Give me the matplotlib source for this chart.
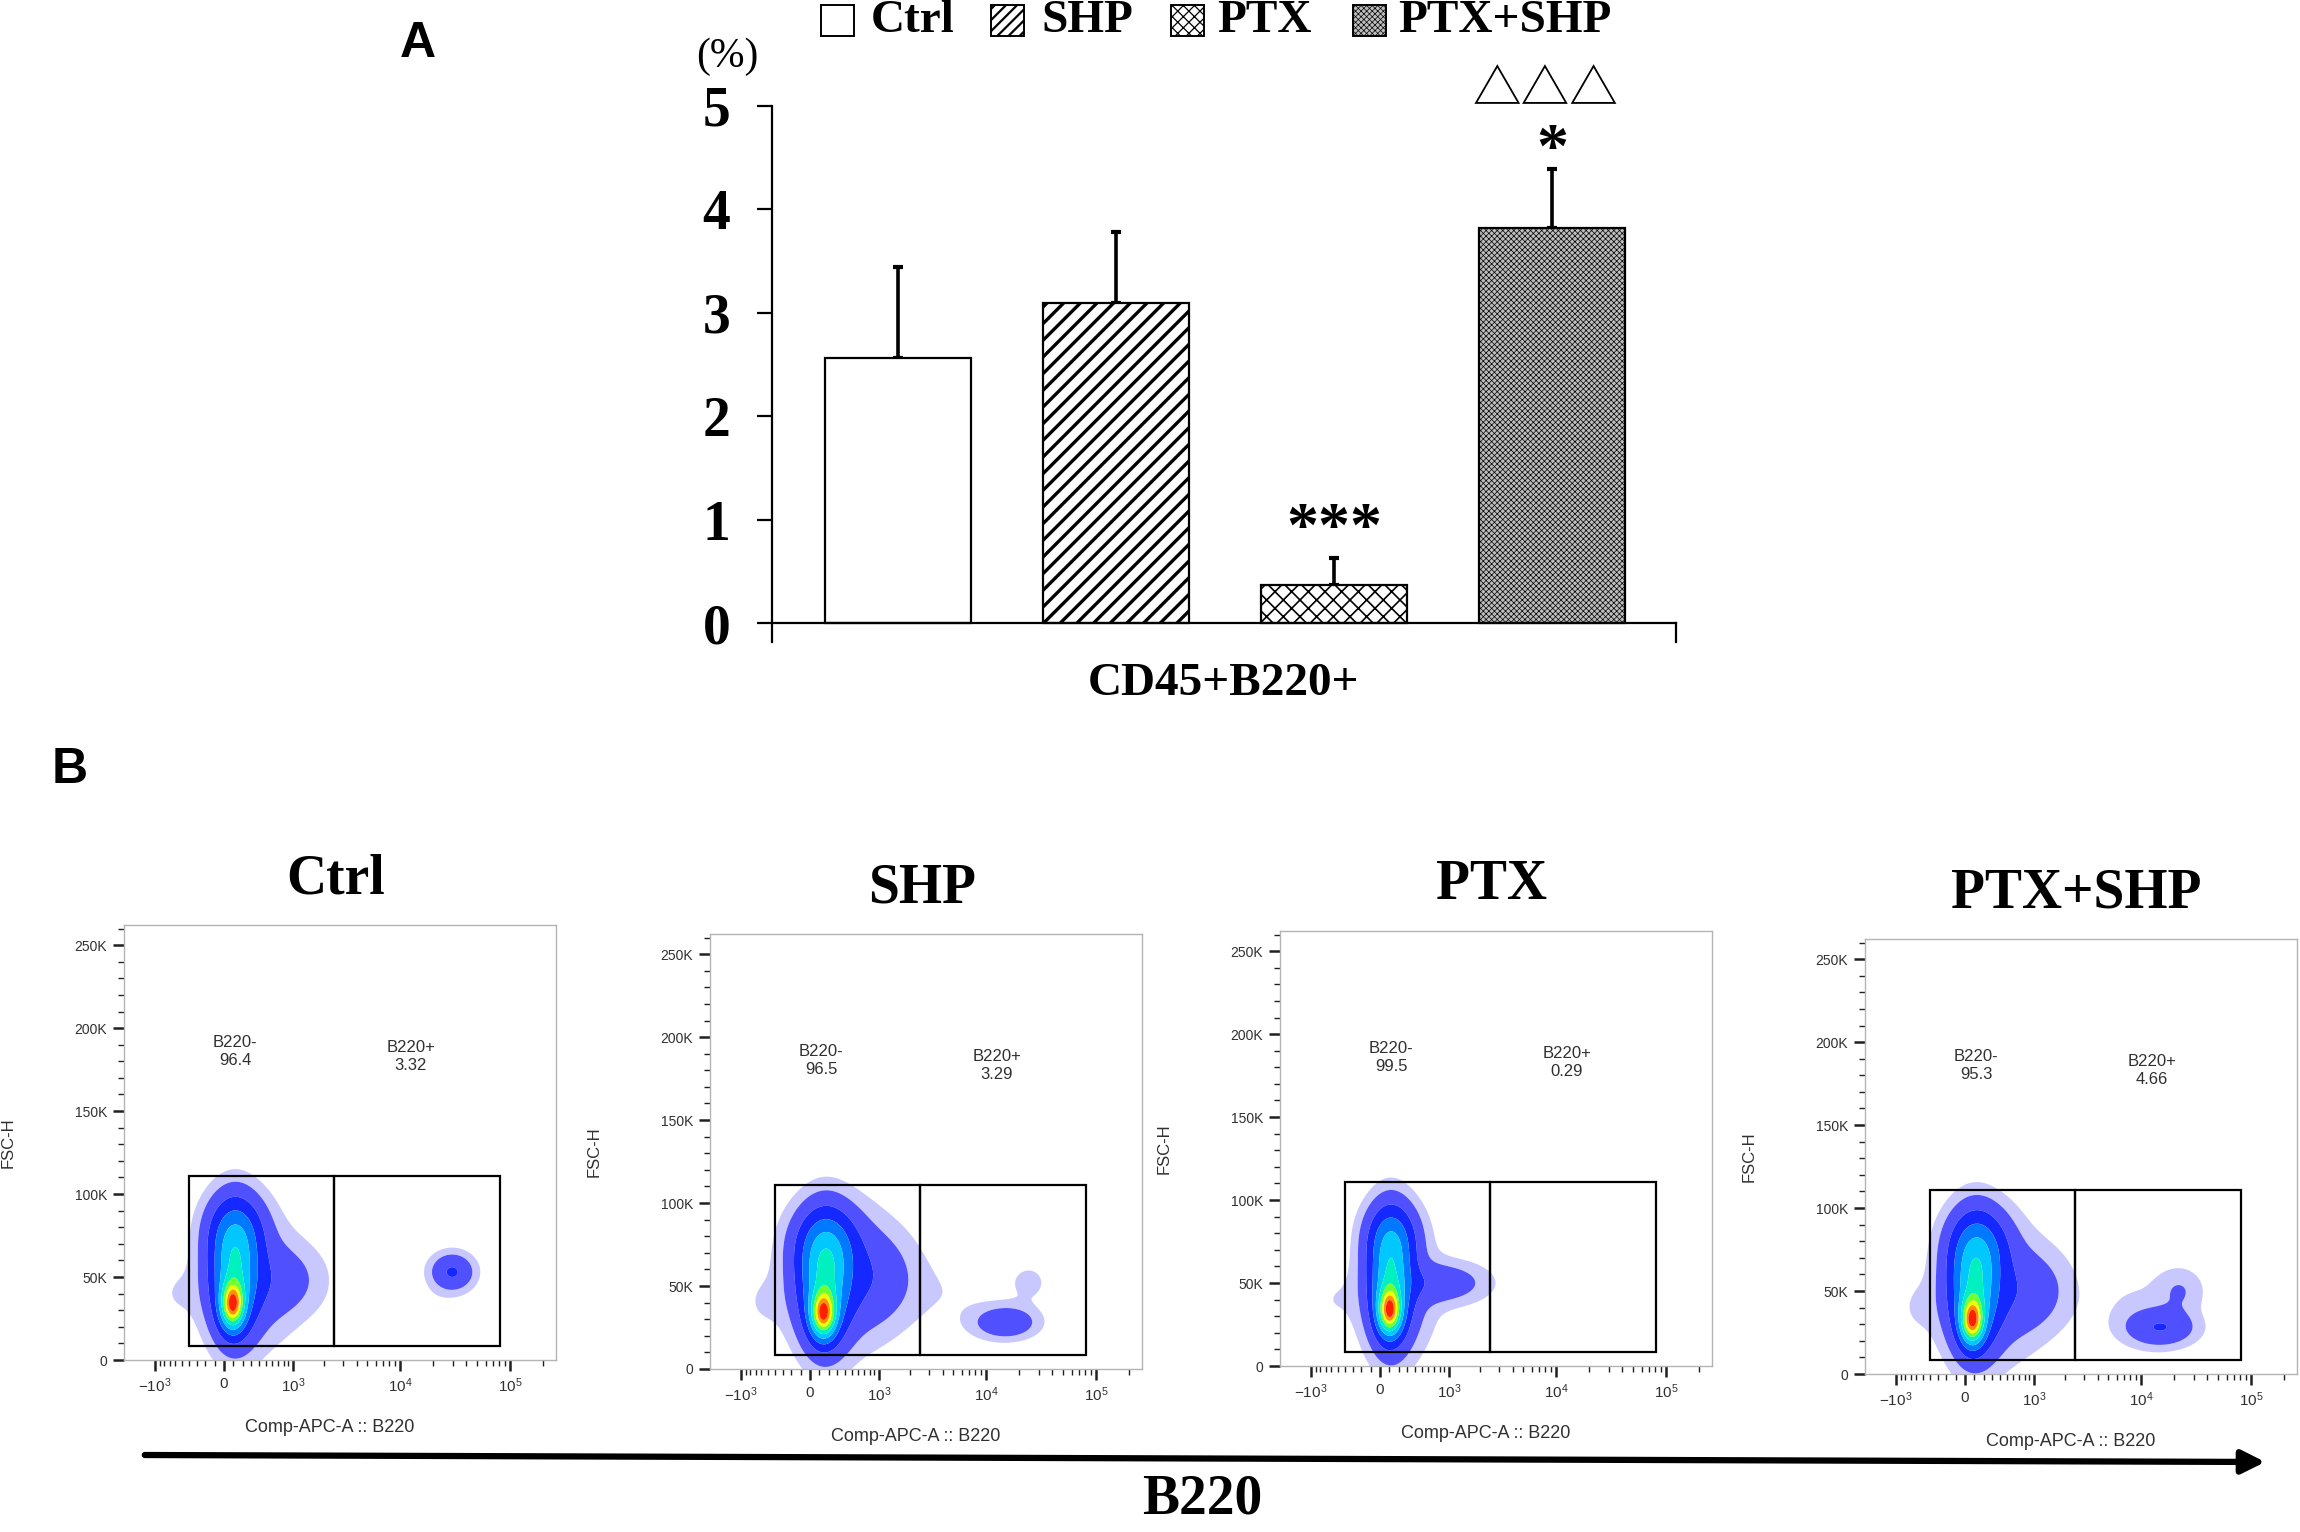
import numpy as np
import matplotlib
matplotlib.use("Agg")
import matplotlib.pyplot as plt
import matplotlib.patches as patches

plt.rcParams["font.family"] = "Liberation Sans"
plt.rcParams["mathtext.fontset"] = "custom"
plt.rcParams["mathtext.rm"] = "Liberation Sans"
plt.rcParams["mathtext.default"] = "regular"

SERIF = "Liberation Serif"

# ================================
# DATA - panel A (bar chart)
# ================================
groups = ["Ctrl", "SHP", "PTX", "PTX+SHP"]
mean_pct = [2.56, 3.10, 0.37, 3.82]
sem_pct = [0.88, 0.68, 0.26, 0.57]
sig_marks = ["", "", "***", "*"]
sig_marks_2 = ["", "", "", "\u25b3\u25b3\u25b3"]
y_ticks = [0, 1, 2, 3, 4, 5]
x_label_a = "CD45+B220+"

# ================================
# DATA - panel B (flow plots)
# ================================
b220_neg_pct = ["96.4", "96.5", "99.5", "95.3"]
b220_pos_pct = ["3.32", "3.29", "0.29", "4.66"]
gate_x = [-400, 2500, 81000]          # B220 gate edges
gate_y = [8500, 111000]               # FSC-H gate edges
fsc_ticks = [0, 50000, 100000, 150000, 200000, 250000]
fsc_labels = ["0", "50K", "100K", "150K", "200K", "250K"]
b220_ticks = [-1000, 0, 1000, 10000, 100000]
b220_labels = [r"$-10^{3}$", "0", r"$10^{3}$", r"$10^{4}$", r"$10^{5}$"]

# cell populations: (asinh position, FSC-H in K, spread asinh, spread K, weight)
ctrl_pops = [(0.18, 33, 0.16, 9, 1.0), (0.22, 52, 0.3, 22, 0.55), (0.25, 78, 0.38, 14, 0.22),
             (0.5, 48, 0.6, 24, 0.1), (1.3, 48, 0.55, 14, 0.06),
             (4.78, 53, 0.28, 7, 0.16), (3.8, 34, 0.6, 6, 0.016), (-1.0, 40, 0.35, 12, 0.015)]
shp_pops = [(0.28, 33, 0.17, 9, 1.0), (0.31, 52, 0.32, 22, 0.55), (0.35, 76, 0.42, 14, 0.22),
            (0.6, 55, 0.68, 25, 0.12), (1.4, 55, 0.55, 18, 0.07),
            (4.1, 28, 0.4, 6, 0.13), (4.6, 52, 0.35, 10, 0.022), (3.0, 45, 0.7, 18, 0.015),
            (-1.0, 40, 0.35, 12, 0.015)]
ptx_pops = [(0.2, 33, 0.16, 9, 1.0), (0.22, 52, 0.27, 22, 0.55), (0.25, 78, 0.34, 13, 0.22),
            (0.35, 45, 0.5, 24, 0.09), (1.3, 50, 0.6, 8, 0.1),
            (4.6, 50, 0.35, 10, 0.016), (-1.0, 40, 0.35, 12, 0.015)]
ptxshp_pops = [(0.15, 32, 0.16, 9, 1.0), (0.2, 52, 0.31, 22, 0.55), (0.3, 78, 0.4, 14, 0.22),
               (0.5, 50, 0.65, 25, 0.11), (1.4, 50, 0.55, 16, 0.07),
               (4.1, 28, 0.45, 7, 0.14), (4.5, 50, 0.32, 9, 0.05), (3.6, 40, 0.6, 15, 0.02),
               (-1.0, 40, 0.35, 12, 0.015)]
all_pops = [ctrl_pops, shp_pops, ptx_pops, ptxshp_pops]

LIN_W = 500
DENS_LEVELS = [0.012, 0.035, 0.1, 0.2, 0.32, 0.45, 0.58, 0.7, 0.8, 0.9, 1.01]
DENS_COLORS = ["#c8c8ff", "#5050ff", "#1428ff", "#0078ff", "#00c8ff", "#00f0c0",
               "#70ff30", "#f0ff00", "#ff9000", "#ff2000"]

W, H = 2300, 1532


def fx(px):
    return px / W


def fy(py):
    return 1 - py / H


fig = plt.figure(figsize=(W / 100, H / 100), dpi=100)

# ================================
# PANEL A
# ================================
ax = fig.add_axes([fx(772), fy(642), (1676 - 772) / W, (642 - 106) / H])
x = np.arange(len(groups))
bar_styles = [
    dict(facecolor="white", hatch=None, hlw=1.0),
    dict(facecolor="white", hatch="//", hlw=2.4),
    dict(facecolor="white", hatch="xx", hlw=1.2),
    dict(facecolor="#bdbdbd", hatch="xxxxxx", hlw=0.5),
]
for i, st in enumerate(bar_styles):
    with plt.rc_context({"hatch.linewidth": st["hlw"]}):
        b = ax.bar(x[i], mean_pct[i], width=0.67, facecolor=st["facecolor"],
                   edgecolor="black", linewidth=1.6, hatch=st["hatch"], zorder=2)
    for p in b:
        if hasattr(p, "set_hatch_linewidth"):
            p.set_hatch_linewidth(st["hlw"])

ax.errorbar(x, mean_pct, yerr=[np.zeros(len(x)), sem_pct], fmt="none", ecolor="black",
            elinewidth=2.6, capsize=3.6, capthick=3, zorder=1)

ax.set_xlim(-0.576, 3.567)
ax.set_ylim(-0.18, 5)
ax.set_xticks([])
ax.set_yticks(y_ticks, labels=[str(t) for t in y_ticks], fontfamily=SERIF,
              fontweight="bold", fontsize=40)
ax.tick_params(axis="y", length=11, width=1.6, pad=19)
ax.spines["top"].set_visible(False)
ax.spines["bottom"].set_position(("data", 0))
ax.spines["right"].set_bounds(-0.18, 0)
for s in ["left", "bottom", "right"]:
    ax.spines[s].set_linewidth(1.6)

fig.text(fx(727), fy(57), "(%)", fontfamily=SERIF, fontsize=30, ha="center", va="center")
fig.text(fx(1223), fy(684), x_label_a, fontfamily=SERIF, fontweight="bold", fontsize=34,
         ha="center", va="center")

# significance marks
sig_y_px = [0, 0, 531, 152]
sig2_y_px = [0, 0, 0, 90]
for i in range(len(groups)):
    xc = ax.transData.transform((x[i], 0))[0] / W
    if sig_marks[i]:
        fig.text(xc, fy(sig_y_px[i]), sig_marks[i], fontfamily=SERIF, fontweight="bold",
                 fontsize=46, ha="center", va="center")
    if sig_marks_2[i]:
        fig.text(xc - 0.003, fy(sig2_y_px[i]), sig_marks_2[i], fontfamily="Noto Sans CJK SC",
                 fontsize=35, ha="center", va="center")

# legend
leg_box_px = [821, 991, 1171, 1353]
leg_txt_px = [871, 1041, 1217, 1398]
leg_hatch = [None, "///", "xxx", "xxxxxx"]
leg_hlw = [1.0, 1.6, 0.9, 0.5]
for i, st in enumerate(bar_styles):
    with plt.rc_context({"hatch.linewidth": leg_hlw[i]}):
        r = patches.Rectangle((fx(leg_box_px[i]), fy(36)), 33 / W, 31 / H,
                              transform=fig.transFigure, facecolor=st["facecolor"],
                              edgecolor="black", linewidth=1.4, hatch=leg_hatch[i])
    if hasattr(r, "set_hatch_linewidth"):
        r.set_hatch_linewidth(leg_hlw[i])
    fig.add_artist(r)
    fig.text(fx(leg_txt_px[i]), fy(21), groups[i], fontfamily=SERIF, fontweight="bold",
             fontsize=34, ha="left", va="center")

fig.text(fx(418), fy(44), "A", fontweight="bold", fontsize=36, ha="center", va="center")
fig.text(fx(70), fy(770), "B", fontweight="bold", fontsize=36, ha="center", va="center")

# ================================
# PANEL B
# ================================
panel_left_px = [124, 710, 1280, 1865]
panel_top_px = [925, 934, 931, 939]
PW, PH = 432, 435

uu = np.linspace(-2.3, 7.2, 480)
yy = np.linspace(0, 262, 480)
U, Y = np.meshgrid(uu, yy)

for k, name in enumerate(groups):
    axb = fig.add_axes([fx(panel_left_px[k]), fy(panel_top_px[k] + PH), PW / W, PH / H])
    axb.set_xscale("asinh", linear_width=LIN_W)
    axb.set_xlim(-2000, 262144)
    axb.set_ylim(0, 262144)

    Z = np.zeros_like(U)
    for u0, y0, su, sy, w in all_pops[k]:
        Z += w * np.exp(-0.5 * ((U - u0) / su) ** 2 - 0.5 * ((Y - y0) / sy) ** 2)
    Z /= Z.max()
    axb.contourf(LIN_W * np.sinh(U), Y * 1000, Z, levels=DENS_LEVELS, colors=DENS_COLORS,
                 zorder=1, antialiased=True)

    axb.add_patch(patches.Rectangle((gate_x[0], gate_y[0]), gate_x[1] - gate_x[0],
                                    gate_y[1] - gate_y[0], fill=False, edgecolor="black",
                                    linewidth=1.6, zorder=3))
    axb.add_patch(patches.Rectangle((gate_x[1], gate_y[0]), gate_x[2] - gate_x[1],
                                    gate_y[1] - gate_y[0], fill=False, edgecolor="black",
                                    linewidth=1.6, zorder=3))

    axb.text(117, 186000, f"B220-\n{b220_neg_pct[k]}", fontsize=12, color="#303030",
             ha="center", va="center", linespacing=1.25)
    axb.text(12500, 183000, f"B220+\n{b220_pos_pct[k]}", fontsize=12, color="#303030",
             ha="center", va="center", linespacing=1.25)

    axb.set_yticks(fsc_ticks, labels=fsc_labels, fontsize=10, color="#303030")
    axb.set_yticks(np.arange(0, 262000, 10000), minor=True)
    minor_x = [v for v in range(-900, 1000, 100) if v != 0]
    minor_x += [m * 10 ** d for d in (3, 4) for m in range(2, 10)] + [200000]
    axb.set_xticks(b220_ticks, labels=b220_labels, fontsize=11, color="#303030")
    axb.set_xticks(minor_x, minor=True)
    axb.xaxis.set_minor_formatter(matplotlib.ticker.NullFormatter())
    axb.tick_params(which="major", length=8, width=1.8, color="#202020", pad=4)
    axb.tick_params(which="minor", length=4, width=1.0, color="#202020")
    for s in axb.spines.values():
        s.set_color("#b4b4b4")
        s.set_linewidth(1.0)

    axb.set_ylabel("FSC-H", fontsize=12, color="#303030")
    axb.yaxis.set_label_coords(-0.25, 0.5)
    axb.set_xlabel("Comp-APC-A :: B220", fontsize=13, color="#303030")
    axb.xaxis.set_label_coords(0.475, -0.135)

    axb.text(0.49, 1 + 46 / PH, name, transform=axb.transAxes, fontfamily=SERIF,
             fontweight="bold", fontsize=40, ha="center", va="center")

# arrow along B220
arrow = patches.FancyArrowPatch((fx(142), fy(1455)), (fx(2268), fy(1462)),
                                transform=fig.transFigure,
                                arrowstyle="-|>,head_length=0.7,head_width=0.35",
                                mutation_scale=20, linewidth=4.5, color="black")
fig.add_artist(arrow)
fig.text(fx(1202), fy(1499), "B220", fontfamily=SERIF, fontweight="bold", fontsize=40,
         ha="center", va="center")

fig.savefig("out.png", dpi=100, facecolor="white")
